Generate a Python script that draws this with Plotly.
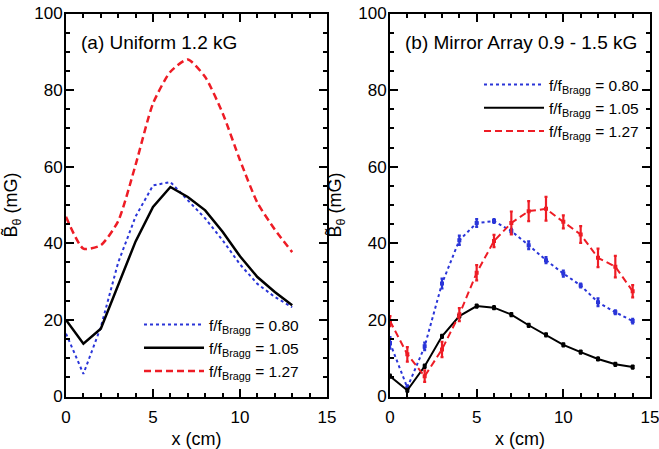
"""Two-panel B-field profile chart (uniform vs mirror array)."""

import plotly.graph_objects as go

# ---- data -------------------------------------------------------------
x_a = list(range(0, 14))
blue_a = [16.4, 5.9, 18.1, 35.0, 47.0, 55.1, 56.0, 51.2, 46.5, 40.8, 34.5, 29.4, 26.0, 23.3]
black_a = [20.0, 13.8, 17.7, 29.0, 40.5, 49.5, 54.7, 52.1, 48.6, 43.0, 36.6, 31.2, 27.3, 23.8]
red_a = [46.9, 38.6, 39.5, 45.8, 60.5, 76.5, 84.8, 88.0, 83.4, 74.0, 61.7, 50.6, 43.6, 37.7]

x_b = list(range(0, 15))
blue_b = [14.0, 2.3, 13.1, 29.5, 40.8, 45.3, 45.8, 43.2, 39.5, 35.6, 32.1, 29.0, 24.6, 22.0, 19.7]
blue_b_err = [1.5, 0.6, 1.0, 1.3, 1.2, 1.0, 0.5, 0.6, 1.0, 0.8, 0.8, 0.5, 1.0, 0.5, 0.6]
black_b = [5.3, 1.6, 7.9, 15.7, 21.0, 23.6, 23.2, 21.4, 18.6, 16.1, 13.5, 11.6, 9.8, 8.4, 7.7]
black_b_err = [0.4] * 15
red_b = [19.7, 11.0, 5.3, 12.3, 21.4, 32.3, 40.6, 45.3, 48.4, 49.0, 45.6, 42.3, 36.2, 33.9, 27.5]
red_b_err = [1.3, 1.9, 1.5, 2.0, 1.7, 2.0, 1.6, 3.0, 2.6, 3.1, 1.7, 2.2, 2.4, 2.8, 1.6]

ratios = ["0.80", "1.05", "1.27"]
panel_titles = ["(a) Uniform 1.2 kG", "(b) Mirror Array 0.9 - 1.5 kG"]

FONT = "Liberation Sans Narrow, Arial Narrow, Liberation Sans, Arial, sans-serif"
BLUE = "#2a35d8"
BLACK = "#000000"
RED = "#ee1c25"
styles = [(BLUE, "dot", 2), (BLACK, "solid", 2.5), (RED, "7px,4px", 2.5)]

W, H = 659, 449


def fx(px):
    return px / W


def fy(py):
    return 1 - py / H


fig = go.Figure()

# panel (a): plain lines (red one drawn smooth like the original)
for (color, dash, w), ys, r in zip(styles, [blue_a, black_a, red_a], ratios):
    smooth = color == RED
    fig.add_trace(go.Scatter(
        x=x_a, y=ys, mode="lines", xaxis="x", yaxis="y",
        line=dict(color=color, dash=dash, width=w,
                  shape="spline" if smooth else "linear", smoothing=0.6),
        name=f"f/f<sub>Bragg</sub> = {r}", legend="legend",
    ))

# panel (b): lines in the legend, markers + error bars kept out of it
for (color, dash, w), ys, err, r in zip(
        styles, [blue_b, black_b, red_b], [blue_b_err, black_b_err, red_b_err], ratios):
    fig.add_trace(go.Scatter(
        x=x_b, y=ys, mode="lines", xaxis="x2", yaxis="y2",
        line=dict(color=color, dash=dash, width=2),
        name=f"f/f<sub>Bragg</sub> = {r}", legend="legend2",
    ))
    fig.add_trace(go.Scatter(
        x=x_b, y=ys, mode="markers", xaxis="x2", yaxis="y2",
        marker=dict(color=color, size=4, symbol="square"),
        error_y=dict(type="data", array=err, color=color, thickness=2.2, width=1.5),
        showlegend=False, hoverinfo="skip",
    ))

axis_common = dict(
    showline=True, linewidth=2, linecolor="black", mirror="ticks",
    ticks="inside", ticklen=8, tickwidth=2, tickcolor="black",
    showgrid=False, zeroline=False, automargin=False,
    ticklabeloverflow="allow",
    tickfont=dict(family=FONT, size=17, color="black"),
    title_font=dict(family=FONT, size=18, color="black"),
)
x_common = dict(axis_common, range=[0, 15], tick0=0, dtick=5,
                minor=dict(dtick=1, ticks="inside", ticklen=4, tickwidth=1.5,
                           tickcolor="black", showgrid=False),
                ticklabelstandoff=4,
                title_text="x (cm)", title_standoff=8)
y_common = dict(axis_common, range=[0, 100], tick0=0, dtick=20,
                minor=dict(dtick=5, ticks="inside", ticklen=4, tickwidth=1.5,
                           tickcolor="black", showgrid=False),
                ticklabelstandoff=-2,
                title_text="B\u0303<sub>\u03b8</sub> (mG)", title_standoff=12)

legend_common = dict(
    bgcolor="rgba(0,0,0,0)", borderwidth=0, itemwidth=60,
    font=dict(family=FONT, size=15.5, color="black"),
    xanchor="left", yanchor="top", tracegroupgap=0,
)

y_dom = [fy(396.5), fy(13.5)]

fig.update_layout(
    width=W, height=H,
    margin=dict(l=0, r=0, t=0, b=0),
    paper_bgcolor="white", plot_bgcolor="white",
    font=dict(family=FONT, size=18, color="black"),
    xaxis=dict(x_common, domain=[fx(66), fx(327)], anchor="y"),
    yaxis=dict(y_common, domain=y_dom, anchor="x"),
    xaxis2=dict(x_common, domain=[fx(390), fx(650)], anchor="y2"),
    yaxis2=dict(y_common, domain=y_dom, anchor="x2"),
    legend=dict(legend_common, x=fx(139), y=fy(308)),
    legend2=dict(legend_common, x=fx(479), y=fy(68)),
    showlegend=True,
)

for (px, py), text in zip([(79, 42), (403, 43)], panel_titles):
    fig.add_annotation(
        text=text, xref="paper", yref="paper",
        x=fx(px), y=fy(py), xanchor="left", yanchor="middle", showarrow=False,
        font=dict(family=FONT, size=19, color="black"),
    )

# drop the browser's default body margin so the figure fills the window
fig.write_html(
    "out.html",
    config={"displayModeBar": False},
    post_script="document.body.style.margin = '0';",
)
